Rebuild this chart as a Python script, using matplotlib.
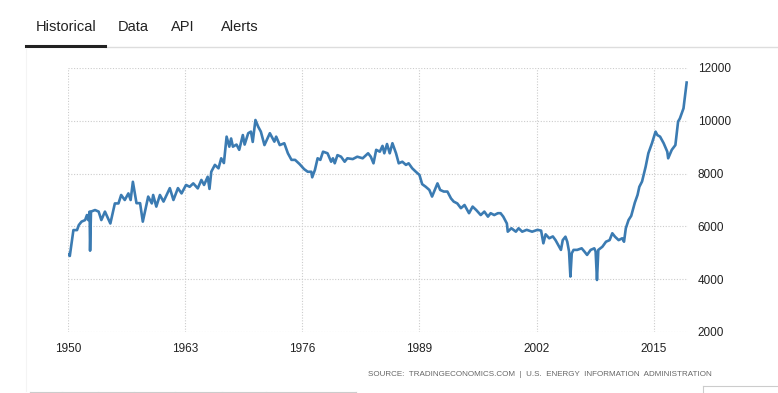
import matplotlib
matplotlib.use("Agg")
import matplotlib.pyplot as plt
from matplotlib.lines import Line2D

plt.rcParams['font.family'] = ['Liberation Sans', 'DejaVu Sans']

# US crude oil production (thousand barrels per day)
years = [
    1950.0, 1950.2, 1950.6, 1951.0, 1951.2, 1951.5, 1951.9, 1952.1, 1952.25, 1952.4,
    1952.45, 1952.55, 1953.0, 1953.4, 1953.7, 1954.1, 1954.7, 1955.2, 1955.6, 1955.9,
    1956.3, 1956.7, 1956.95, 1957.2, 1957.6, 1958.0, 1958.3, 1958.9, 1959.3, 1959.45,
    1959.8, 1960.2, 1960.6, 1961.3, 1961.7, 1962.2, 1962.6, 1963.1, 1963.5, 1963.9,
    1964.4, 1964.8, 1965.1, 1965.5, 1965.7, 1965.9, 1966.3, 1966.7, 1967.0, 1967.3,
    1967.6, 1967.9, 1968.1, 1968.3, 1968.7, 1969.0, 1969.4, 1969.6, 1970.0, 1970.3,
    1970.5, 1970.8, 1971.1, 1971.4, 1971.8, 1972.4, 1972.9, 1973.1, 1973.5, 1974.0,
    1974.4, 1974.8, 1975.2, 1975.7, 1976.2, 1976.6, 1977.0, 1977.1, 1977.4, 1977.7,
    1978.0, 1978.3, 1978.8, 1979.2, 1979.4, 1979.6, 1979.9, 1980.3, 1980.7, 1981.0,
    1981.6, 1982.1, 1982.7, 1983.3, 1983.6, 1983.9, 1984.2, 1984.6, 1984.9, 1985.1,
    1985.4, 1985.7, 1986.0, 1986.4, 1986.7, 1987.1, 1987.5, 1987.8, 1988.2, 1988.6,
    1989.0, 1989.3, 1989.7, 1990.1, 1990.4, 1991.0, 1991.3, 1991.7, 1992.1, 1992.5,
    1992.8, 1993.2, 1993.6, 1994.0, 1994.5, 1994.9, 1995.3, 1995.8, 1996.2, 1996.6,
    1996.9, 1997.3, 1997.7, 1998.0, 1998.3, 1998.7, 1998.8, 1999.2, 1999.7, 2000.0,
    2000.4, 2000.9, 2001.5, 2002.1, 2002.5, 2002.75, 2003.0, 2003.4, 2003.8, 2004.1,
    2004.7, 2004.9, 2005.2, 2005.4, 2005.6, 2005.75, 2005.9, 2006.1, 2006.5, 2007.0,
    2007.3, 2007.6, 2008.0, 2008.4, 2008.55, 2008.7, 2008.85, 2009.3, 2009.7, 2010.1,
    2010.4, 2010.7, 2011.1, 2011.5, 2011.7, 2011.9, 2012.2, 2012.5, 2012.9, 2013.2,
    2013.4, 2013.7, 2014.1, 2014.4, 2014.8, 2015.2, 2015.4, 2015.7, 2016.1, 2016.5,
    2016.6, 2017.0, 2017.4, 2017.7, 2017.9, 2018.3, 2018.65,
]
production = [
    4950, 4880, 5860, 5860, 6050, 6180, 6240, 6430, 6240, 6560,
    5080, 6560, 6620, 6560, 6240, 6560, 6110, 6870, 6870, 7190,
    7000, 7250, 7000, 7690, 6880, 6880, 6180, 7130, 6870, 7190,
    6750, 7190, 6940, 7450, 7000, 7450, 7250, 7570, 7500, 7630,
    7440, 7760, 7570, 7880, 7420, 8070, 8330, 8200, 8580, 8400,
    9400, 9020, 9330, 9020, 9100, 8900, 9460, 9100, 9530, 9590,
    9200, 10030, 9780, 9590, 9080, 9530, 9210, 9400, 9080, 9150,
    8770, 8520, 8520, 8360, 8170, 8070, 8070, 7860, 8140, 8580,
    8520, 8830, 8770, 8450, 8580, 8390, 8700, 8640, 8450, 8580,
    8550, 8640, 8580, 8770, 8640, 8390, 8900, 8830, 9050, 8770,
    9120, 8770, 9150, 8770, 8390, 8450, 8330, 8390, 8200, 8070,
    7950, 7600, 7500, 7380, 7130, 7630, 7380, 7320, 7320, 7060,
    6940, 6870, 6690, 6810, 6500, 6750, 6620, 6430, 6560, 6370,
    6500, 6430, 6500, 6500, 6370, 6110, 5800, 5930, 5800, 5930,
    5800, 5870, 5800, 5870, 5840, 5360, 5700, 5550, 5620, 5480,
    5110, 5480, 5610, 5420, 5050, 4100, 4980, 5110, 5110, 5170,
    5050, 4920, 5110, 5170, 5050, 3970, 5110, 5230, 5420, 5480,
    5740, 5610, 5480, 5550, 5420, 5930, 6240, 6400, 6900, 7190,
    7500, 7700, 8260, 8770, 9150, 9590, 9460, 9400, 9150, 8830,
    8580, 8900, 9080, 9970, 10090, 10470, 11450,
]

x_ticks = [1950, 1963, 1976, 1989, 2002, 2015]
y_ticks = [2000, 4000, 6000, 8000, 10000, 12000]
tabs = ["Historical", "Data", "API", "Alerts"]
tab_x = [36, 118, 171, 221]
source = "SOURCE:  TRADINGECONOMICS.COM  |  U.S.  ENERGY  INFORMATION  ADMINISTRATION"

W, H = 778, 393
fig = plt.figure(figsize=(W / 100, H / 100), dpi=100)
fig.patch.set_facecolor("white")

ax = fig.add_axes([68 / W, 1 - 332 / H, (688 - 68) / W, (332 - 68) / H])
ax.plot(years, production, color="#3b7bb2", lw=1.9, solid_joinstyle="round")
ax.set_xlim(1950, 2018.8)
ax.set_ylim(2000, 12000)
ax.set_xticks(x_ticks)
ax.set_yticks(y_ticks)
ax.yaxis.tick_right()
ax.tick_params(length=0, labelsize=8.5, colors="#222222")
ax.tick_params(axis="x", pad=8)
ax.tick_params(axis="y", pad=7)
ax.grid(True, color="#cccccc", linestyle=(0, (1, 1.5)), linewidth=0.8)
for s in ax.spines.values():
    s.set_visible(False)

# tabs header
for t, tx in zip(tabs, tab_x):
    fig.text(tx / W, 1 - 27 / H, t, fontsize=10.5, color="#222222",
             ha="left", va="center")
fig.add_artist(Line2D([105 / W, 1], [1 - 47 / H] * 2, color="#dddddd", lw=1))
fig.add_artist(Line2D([26 / W, 105 / W], [1 - 46 / H] * 2, color="#222222", lw=2.2))

# faint page borders
fig.add_artist(Line2D([26 / W] * 2, [1 - 48 / H, 1 - 391 / H], color="#f4f4f4", lw=0.8))
fig.add_artist(Line2D([30 / W, 356 / W], [1 - 391.5 / H] * 2, color="#cccccc", lw=0.8))
for bx in [30, 62, 98, 134, 175, 222, 266, 356]:
    fig.add_artist(Line2D([bx / W] * 2, [1 - 391.5 / H, 0], color="#cccccc", lw=0.8))
fig.add_artist(Line2D([703 / W, 1], [1 - 386 / H] * 2, color="#cccccc", lw=0.8))
fig.add_artist(Line2D([703 / W] * 2, [1 - 386 / H, 0], color="#cccccc", lw=0.8))

fig.text(712 / W, 1 - 374 / H, source, fontsize=5.8, color="#666666",
         ha="right", va="center")

fig.savefig("out.png", dpi=100)
